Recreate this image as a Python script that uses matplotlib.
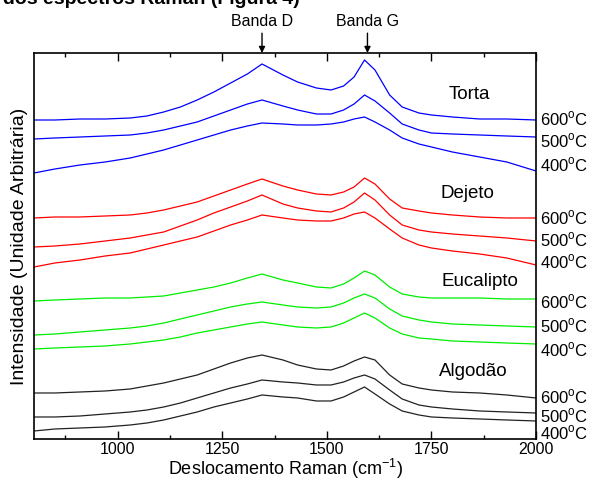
import matplotlib
matplotlib.use("Agg")
import matplotlib.pyplot as plt
from matplotlib.ticker import MultipleLocator

plt.rcParams['font.family'] = ['Liberation Sans', 'DejaVu Sans']

# Deslocamento Raman (cm-1)
raman = [800, 850, 910, 970, 1030, 1070, 1110, 1150, 1190, 1230, 1270, 1310, 1345,
         1395, 1430, 1475, 1510, 1540, 1565, 1590, 1615, 1650, 1680, 1720, 1750,
         1800, 1865, 1930, 2000]

# Intensidades (unidade arbitraria, ja com o deslocamento vertical do grafico)
torta_600 = [319, 319, 320, 320, 321, 323, 327, 332, 339, 347, 356, 365, 375,
             364, 357, 351, 349, 353, 362, 379, 369, 344, 332, 326, 324, 322, 320, 320, 319]
torta_500 = [300, 301, 302, 303, 304, 306, 309, 313, 317, 323, 329, 335, 339,
             333, 329, 325, 325, 329, 335, 344, 338, 326, 315, 309, 306, 305, 304, 303, 302]
torta_400 = [266, 270, 274, 277, 281, 285, 289, 294, 299, 304, 309, 313, 316,
             315, 314, 314, 315, 317, 320, 322, 317, 309, 301, 295, 292, 287, 282, 277, 268]

dejeto_600 = [221, 222, 222, 223, 224, 226, 229, 233, 237, 243, 249, 255, 260,
              253, 249, 245, 244, 247, 252, 261, 255, 240, 231, 228, 226, 224, 222, 221, 221]
dejeto_500 = [192, 193, 195, 198, 201, 204, 207, 213, 219, 226, 232, 238, 244,
              235, 231, 228, 227, 231, 237, 246, 239, 224, 214, 209, 207, 205, 203, 201, 198]
dejeto_400 = [172, 176, 179, 183, 186, 190, 194, 198, 202, 208, 214, 219, 224,
              221, 219, 218, 218, 221, 225, 227, 221, 210, 201, 194, 191, 188, 185, 181, 174]

eucalipto_600 = [138, 139, 140, 141, 141, 142, 143, 146, 149, 152, 156, 161, 165,
                 159, 156, 152, 151, 155, 161, 168, 164, 152, 145, 142, 141, 141, 141, 140, 140]
eucalipto_500 = [104, 105, 107, 109, 111, 113, 116, 120, 124, 128, 132, 135, 137,
                 134, 132, 131, 132, 136, 141, 145, 141, 130, 123, 119, 117, 115, 114, 113, 112]
eucalipto_400 = [90, 91, 92, 93, 95, 97, 99, 102, 106, 109, 112, 115, 117,
                 114, 112, 111, 112, 116, 121, 126, 121, 111, 105, 101, 100, 98, 97, 96, 95]

algodao_600 = [46, 46, 47, 48, 50, 53, 56, 60, 64, 70, 76, 81, 84,
               79, 74, 70, 69, 73, 78, 82, 79, 64, 55, 51, 49, 47, 46, 44, 41]
algodao_500 = [22, 22, 23, 25, 27, 29, 32, 36, 41, 46, 51, 55, 59,
               57, 56, 54, 54, 57, 61, 64, 60, 49, 40, 34, 32, 30, 28, 27, 26]
algodao_400 = [8, 10, 11, 12, 14, 16, 19, 23, 27, 32, 36, 40, 44,
               42, 41, 38, 38, 42, 47, 52, 45, 35, 28, 24, 22, 21, 20, 19, 18]

grupos = ["Torta", "Dejeto", "Eucalipto", "Algodão"]
cores = ["#0000ff", "#ff0000", "#00ee00", "#222222"]
series = [[torta_600, torta_500, torta_400],
          [dejeto_600, dejeto_500, dejeto_400],
          [eucalipto_600, eucalipto_500, eucalipto_400],
          [algodao_600, algodao_500, algodao_400]]
temperaturas = ["600", "500", "400"]

# posicao dos rotulos (x em cm-1, y na escala de intensidade)
grupo_pos = [(1840, 344), (1835, 245), (1865, 157), (1850, 67)]
temp_y = [[320, 298, 274], [221, 199, 177], [137, 113, 89], [42, 23, 6]]
bandas = [("Banda D", 1345), ("Banda G", 1597)]

fig = plt.figure(figsize=(5.9, 4.84), dpi=100)
ax = fig.add_axes([0.0576, 0.093, 0.851, 0.7975])

for nome, cor, curvas, pos, ys in zip(grupos, cores, series, grupo_pos, temp_y):
    for curva, t, yt in zip(curvas, temperaturas, ys):
        ax.plot(raman, curva, color=cor, lw=0.9)
        ax.text(2010, yt, t + r"$^{\mathregular{o}}$C", fontsize=12,
                va='center', ha='left', clip_on=False)
    ax.text(pos[0], pos[1], nome, fontsize=13.5, ha='center', va='center')

for nome, xb in bandas:
    ax.annotate(nome, xy=(xb, 386), xytext=(xb, 410), textcoords='data',
                ha='center', va='bottom', fontsize=11.5, annotation_clip=False,
                arrowprops=dict(arrowstyle='-|>', color='black', lw=1.0,
                                mutation_scale=9, shrinkA=1, shrinkB=0))

ax.set_xlim(800, 2000)
ax.set_ylim(0, 386)
ax.xaxis.set_major_locator(MultipleLocator(250))
ax.xaxis.set_minor_locator(MultipleLocator(125))
ax.tick_params(axis='x', which='both', direction='in', top=True, labelsize=11.5, pad=2)
ax.tick_params(axis='x', which='major', length=6, width=1)
ax.tick_params(axis='x', which='minor', length=3, width=1)
ax.set_yticks([])
for s in ax.spines.values():
    s.set_linewidth(1.2)

ax.set_xlabel("Deslocamento Raman (cm$^{\\mathregular{-1}}$)", fontsize=13, labelpad=0)
ax.set_ylabel("Intensidade (Unidade Arbitrária)", fontsize=14, labelpad=4)

# texto do documento cortado no topo da imagem
fig.text(300 / 590, 1 - 4 / 484, "dos espectros Raman (Figura 4)", fontsize=14,
         fontweight='bold', ha='right', va='baseline')

fig.savefig("out.png", dpi=100)
